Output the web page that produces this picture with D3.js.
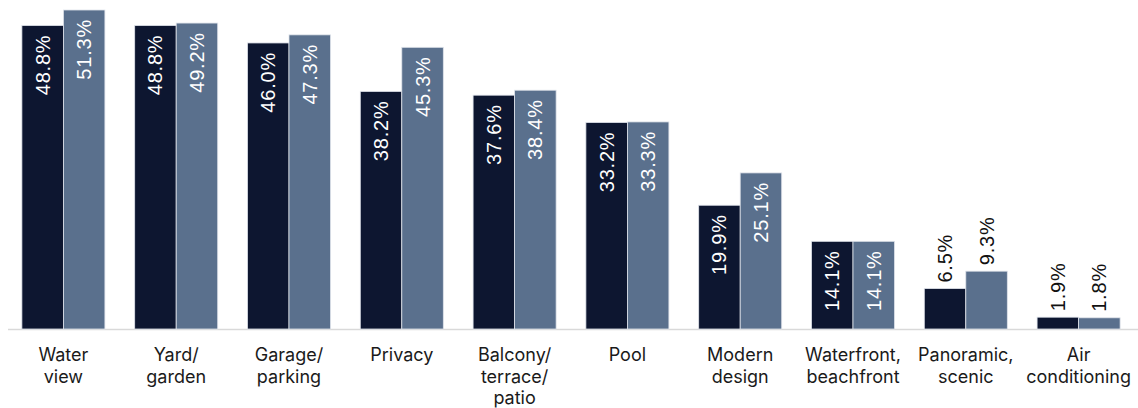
<!DOCTYPE html>
<html>
<head>
<meta charset="utf-8">
<script src="https://cdn.jsdelivr.net/npm/d3@7"></script>
<style>
  body { margin: 0; background: #fff; }
  svg { display: block; }
</style>
</head>
<body>
<div id="chart"></div>
<script>
// categories (label lines) and the two series
var categories = [
  ["Water", "view"],
  ["Yard/", "garden"],
  ["Garage/", "parking"],
  ["Privacy"],
  ["Balcony/", "terrace/", "patio"],
  ["Pool"],
  ["Modern", "design"],
  ["Waterfront,", "beachfront"],
  ["Panoramic,", "scenic"],
  ["Air", "conditioning"]
];
var seriesA = [48.8, 48.8, 46.0, 38.2, 37.6, 33.2, 19.9, 14.1, 6.5, 1.9];
var seriesB = [51.3, 49.2, 47.3, 45.3, 38.4, 33.3, 25.1, 14.1, 9.3, 1.8];
var colors = ["#0d1630", "#5a708d"];

var width = 1138, height = 408;
var baseY = 329;

var svg = d3.select("#chart")
  .append("svg")
  .attr("width", width)
  .attr("height", height);

var keys = categories.map(function(d) { return d.join(" "); });

var x = d3.scaleBand()
  .domain(keys)
  .range([7, 1135])
  .paddingInner(0.264)
  .paddingOuter(0.132);

var xSub = d3.scaleBand()
  .domain([0, 1])
  .range([0, x.bandwidth()]);

var y = d3.scaleLinear()
  .domain([0, 51.3])
  .range([baseY, 10]);

// baseline
svg.append("line")
  .attr("x1", 8).attr("x2", width)
  .attr("y1", baseY + 0.5).attr("y2", baseY + 0.5)
  .attr("stroke", "#d9d9d9")
  .attr("stroke-width", 1.5);

var rows = keys.map(function(k, i) {
  return { key: k, values: [seriesA[i], seriesB[i]] };
});

var groups = svg.selectAll(".grp")
  .data(rows)
  .enter().append("g")
  .attr("class", "grp")
  .attr("transform", function(d) { return "translate(" + x(d.key) + ",0)"; });

var bars = groups.selectAll("g.bar")
  .data(function(d) { return d.values.map(function(v, j) { return { v: v, j: j }; }); })
  .enter().append("g")
  .attr("class", "bar");

bars.append("rect")
  .attr("x", function(d) { return xSub(d.j); })
  .attr("width", xSub.bandwidth())
  .attr("y", function(d) { return y(d.v); })
  .attr("height", function(d) { return baseY - y(d.v); })
  .attr("fill", function(d) { return colors[d.j]; })
  .attr("stroke", "#dfe3ea")
  .attr("stroke-width", 0.8);

// value labels, rotated; inside the bar when it is tall enough
function inside(d) { return baseY - y(d.v) > 75; }

bars.append("text")
  .attr("transform", function(d) {
    var cx = xSub(d.j) + xSub.bandwidth() / 2;
    var ty = inside(d) ? y(d.v) + 9 : y(d.v) - 6;
    return "translate(" + cx + "," + ty + ") rotate(-90)";
  })
  .attr("text-anchor", function(d) { return inside(d) ? "end" : "start"; })
  .attr("dominant-baseline", "central")
  .attr("fill", function(d) { return inside(d) ? "#ffffff" : "#111111"; })
  .style("font-family", "'Liberation Sans', Arial, sans-serif")
  .style("font-size", "20px")
  .style("letter-spacing", "0.8px")
  .text(function(d) { return d.v.toFixed(1) + "%"; });

// category labels
var labels = svg.selectAll(".cat")
  .data(categories)
  .enter().append("text")
  .attr("class", "cat")
  .attr("x", function(d, i) { return x(keys[i]) + x.bandwidth() / 2; })
  .attr("y", 361)
  .attr("text-anchor", "middle")
  .attr("fill", "#1a1a1a")
  .style("font-family", "Inter, 'Noto Sans', sans-serif")
  .style("font-size", "18px");

labels.selectAll("tspan")
  .data(function(d) { return d; })
  .enter().append("tspan")
  .attr("x", function() { return d3.select(this.parentNode).attr("x"); })
  .attr("dy", function(d, i) { return i === 0 ? 0 : 21.5; })
  .text(function(d) { return d; });
</script>
</body>
</html>
